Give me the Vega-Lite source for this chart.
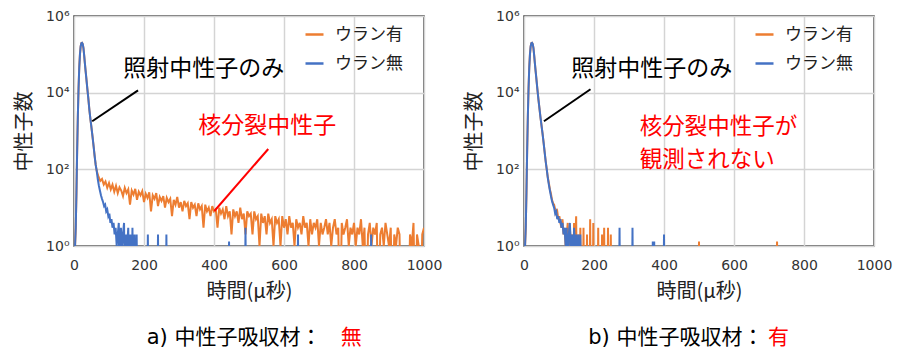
{
"$schema": "https://vega.github.io/schema/vega-lite/v6.json",
"padding": {"left": 13, "top": 8, "right": 5, "bottom": 5},
"spacing": 100,
"bounds": "flush",
"config": {
 "font": "Noto Sans CJK JP",
 "view": {"stroke": "#404040", "strokeWidth": 1.5},
 "axis": {"grid": true, "gridColor": "#d4d4d4", "gridWidth": 1.5, "domain": false, "ticks": false, "tickSize": 0, "labelFont": "DejaVu Sans", "labelFontSize": 14, "labelColor": "#333333", "labelFlush": false, "labelOverlap": false, "labelBound": false, "titleFont": "Noto Sans CJK JP", "titleFontSize": 20, "titleFontWeight": "normal", "titleColor": "#222222"},
 "legend": {"orient": "none", "legendX": 230, "legendY": 8, "symbolType": "stroke", "symbolSize": 324, "symbolStrokeWidth": 2.5, "labelFont": "Noto Sans CJK JP", "labelFontSize": 17, "labelColor": "#222222", "labelOffset": 10, "rowPadding": 10, "padding": 0}
},
"datasets": {
 "a": [
  {"s":"ウラン有","t":3,"n":1},{"s":"ウラン有","t":5,"n":3},{"s":"ウラン有","t":7,"n":25},{"s":"ウラン有","t":9,"n":300},{"s":"ウラン有","t":11,"n":2500},{"s":"ウラン有","t":13,"n":13000},{"s":"ウラン有","t":15,"n":45000},{"s":"ウラン有","t":17,"n":100000},{"s":"ウラン有","t":19,"n":160000},{"s":"ウラン有","t":21,"n":195000},{"s":"ウラン有","t":23,"n":200000},{"s":"ウラン有","t":25,"n":185000},{"s":"ウラン有","t":27,"n":145000},{"s":"ウラン有","t":29,"n":95000},{"s":"ウラン有","t":31,"n":60000},{"s":"ウラン有","t":33,"n":38000},{"s":"ウラン有","t":35,"n":25000},{"s":"ウラン有","t":38,"n":13000},{"s":"ウラン有","t":41,"n":7000},{"s":"ウラン有","t":44,"n":3500},{"s":"ウラン有","t":47,"n":2000},{"s":"ウラン有","t":50,"n":1200},{"s":"ウラン有","t":53,"n":700},{"s":"ウラン有","t":56,"n":400},{"s":"ウラン有","t":59,"n":220},{"s":"ウラン有","t":62,"n":130},{"s":"ウラン有","t":65,"n":90},
  {"s":"ウラン有","t":70,"n":64},{"s":"ウラン有","t":75,"n":50},{"s":"ウラン有","t":80,"n":56},{"s":"ウラン有","t":85,"n":40},{"s":"ウラン有","t":90,"n":48},{"s":"ウラン有","t":95,"n":33},{"s":"ウラン有","t":100,"n":44},{"s":"ウラン有","t":105,"n":30},{"s":"ウラン有","t":110,"n":40},{"s":"ウラン有","t":115,"n":26},{"s":"ウラン有","t":120,"n":37},{"s":"ウラン有","t":125,"n":24},{"s":"ウラン有","t":130,"n":34},{"s":"ウラン有","t":135,"n":28},{"s":"ウラン有","t":140,"n":20},{"s":"ウラン有","t":145,"n":33},{"s":"ウラン有","t":150,"n":24},{"s":"ウラン有","t":155,"n":30},{"s":"ウラン有","t":160,"n":12},{"s":"ウラン有","t":165,"n":28},{"s":"ウラン有","t":170,"n":22},{"s":"ウラン有","t":175,"n":31},{"s":"ウラン有","t":180,"n":16},{"s":"ウラン有","t":185,"n":26},{"s":"ウラン有","t":190,"n":21},{"s":"ウラン有","t":195,"n":27},{"s":"ウラン有","t":200,"n":14},
  {"s":"ウラン有","t":205,"n":23},{"s":"ウラン有","t":210,"n":18},{"s":"ウラン有","t":215,"n":25},{"s":"ウラン有","t":220,"n":8},{"s":"ウラン有","t":225,"n":21},{"s":"ウラン有","t":230,"n":17},{"s":"ウラン有","t":235,"n":24},{"s":"ウラン有","t":240,"n":11},{"s":"ウラン有","t":245,"n":19},{"s":"ウラン有","t":250,"n":15},{"s":"ウラン有","t":255,"n":20},{"s":"ウラン有","t":260,"n":10},{"s":"ウラン有","t":265,"n":18},{"s":"ウラン有","t":270,"n":14},{"s":"ウラン有","t":275,"n":17},{"s":"ウラン有","t":280,"n":6},{"s":"ウラン有","t":285,"n":16},{"s":"ウラン有","t":290,"n":12},{"s":"ウラン有","t":295,"n":19},{"s":"ウラン有","t":300,"n":10},
  {"s":"ウラン有","t":305,"n":14},{"s":"ウラン有","t":310,"n":8},{"s":"ウラン有","t":315,"n":15},{"s":"ウラン有","t":320,"n":11},{"s":"ウラン有","t":325,"n":13},{"s":"ウラン有","t":330,"n":5},{"s":"ウラン有","t":335,"n":14},{"s":"ウラン有","t":340,"n":10},{"s":"ウラン有","t":345,"n":12},{"s":"ウラン有","t":350,"n":6},{"s":"ウラン有","t":355,"n":13},{"s":"ウラン有","t":360,"n":9},{"s":"ウラン有","t":365,"n":11},{"s":"ウラン有","t":370,"n":3},{"s":"ウラン有","t":375,"n":12},{"s":"ウラン有","t":380,"n":8},{"s":"ウラン有","t":385,"n":10},{"s":"ウラン有","t":390,"n":6},{"s":"ウラン有","t":395,"n":11},{"s":"ウラン有","t":400,"n":8},
  {"s":"ウラン有","t":405,"n":9},{"s":"ウラン有","t":410,"n":3},{"s":"ウラン有","t":415,"n":10},{"s":"ウラン有","t":420,"n":7},{"s":"ウラン有","t":425,"n":9},{"s":"ウラン有","t":430,"n":5},{"s":"ウラン有","t":435,"n":11},{"s":"ウラン有","t":440,"n":6},{"s":"ウラン有","t":445,"n":8},{"s":"ウラン有","t":450,"n":2},{"s":"ウラン有","t":455,"n":9},{"s":"ウラン有","t":460,"n":6},{"s":"ウラン有","t":465,"n":8},{"s":"ウラン有","t":470,"n":4},{"s":"ウラン有","t":475,"n":10},{"s":"ウラン有","t":480,"n":5},{"s":"ウラン有","t":485,"n":7},{"s":"ウラン有","t":490,"n":2},{"s":"ウラン有","t":495,"n":8},{"s":"ウラン有","t":500,"n":6},
  {"s":"ウラン有","t":505,"n":7},{"s":"ウラン有","t":510,"n":2},{"s":"ウラン有","t":515,"n":8},{"s":"ウラン有","t":520,"n":5},{"s":"ウラン有","t":525,"n":6},{"s":"ウラン有","t":530,"n":1},{"s":"ウラン有","t":535,"n":7},{"s":"ウラン有","t":540,"n":4},{"s":"ウラン有","t":545,"n":6},{"s":"ウラン有","t":550,"n":2},{"s":"ウラン有","t":555,"n":7},{"s":"ウラン有","t":560,"n":4},{"s":"ウラン有","t":565,"n":5},{"s":"ウラン有","t":570,"n":1},{"s":"ウラン有","t":575,"n":6},{"s":"ウラン有","t":580,"n":4},{"s":"ウラン有","t":585,"n":5},{"s":"ウラン有","t":590,"n":1},{"s":"ウラン有","t":595,"n":6},{"s":"ウラン有","t":600,"n":3},
  {"s":"ウラン有","t":605,"n":5},{"s":"ウラン有","t":610,"n":2},{"s":"ウラン有","t":615,"n":6},{"s":"ウラン有","t":620,"n":3},{"s":"ウラン有","t":625,"n":4},{"s":"ウラン有","t":630,"n":1},{"s":"ウラン有","t":635,"n":5},{"s":"ウラン有","t":640,"n":3},{"s":"ウラン有","t":645,"n":4},{"s":"ウラン有","t":650,"n":2},{"s":"ウラン有","t":655,"n":6},{"s":"ウラン有","t":660,"n":3},{"s":"ウラン有","t":665,"n":4},{"s":"ウラン有","t":670,"n":1},{"s":"ウラン有","t":675,"n":5},{"s":"ウラン有","t":680,"n":2},{"s":"ウラン有","t":685,"n":4},{"s":"ウラン有","t":690,"n":3},{"s":"ウラン有","t":695,"n":5},{"s":"ウラン有","t":700,"n":1},
  {"s":"ウラン有","t":705,"n":4},{"s":"ウラン有","t":710,"n":2},{"s":"ウラン有","t":715,"n":3},{"s":"ウラン有","t":720,"n":5},{"s":"ウラン有","t":725,"n":2},{"s":"ウラン有","t":730,"n":4},{"s":"ウラン有","t":735,"n":1},{"s":"ウラン有","t":740,"n":3},{"s":"ウラン有","t":745,"n":5},{"s":"ウラン有","t":750,"n":2},{"s":"ウラン有","t":755,"n":3},{"s":"ウラン有","t":760,"n":0.01},{"s":"ウラン有","t":765,"n":4},{"s":"ウラン有","t":770,"n":2},{"s":"ウラン有","t":775,"n":3},{"s":"ウラン有","t":780,"n":5},{"s":"ウラン有","t":785,"n":1},{"s":"ウラン有","t":790,"n":3},{"s":"ウラン有","t":795,"n":2},{"s":"ウラン有","t":800,"n":4},
  {"s":"ウラン有","t":805,"n":1},{"s":"ウラン有","t":810,"n":3},{"s":"ウラン有","t":815,"n":2},{"s":"ウラン有","t":820,"n":5},{"s":"ウラン有","t":825,"n":1},{"s":"ウラン有","t":830,"n":3},{"s":"ウラン有","t":835,"n":0.01},{"s":"ウラン有","t":840,"n":2},{"s":"ウラン有","t":845,"n":4},{"s":"ウラン有","t":850,"n":1},{"s":"ウラン有","t":855,"n":3},{"s":"ウラン有","t":860,"n":2},{"s":"ウラン有","t":865,"n":4},{"s":"ウラン有","t":870,"n":0.01},{"s":"ウラン有","t":875,"n":2},{"s":"ウラン有","t":880,"n":3},{"s":"ウラン有","t":885,"n":1},{"s":"ウラン有","t":890,"n":4},{"s":"ウラン有","t":895,"n":2},{"s":"ウラン有","t":900,"n":1},
  {"s":"ウラン有","t":905,"n":3},{"s":"ウラン有","t":910,"n":0.01},{"s":"ウラン有","t":915,"n":2},{"s":"ウラン有","t":920,"n":1},{"s":"ウラン有","t":925,"n":3},{"s":"ウラン有","t":930,"n":2},{"s":"ウラン有","t":935,"n":0.01},{"s":"ウラン有","t":940,"n":1},{"s":"ウラン有","t":945,"n":0.01},{"s":"ウラン有","t":950,"n":0.01},{"s":"ウラン有","t":955,"n":0.01},{"s":"ウラン有","t":960,"n":2},{"s":"ウラン有","t":965,"n":1},{"s":"ウラン有","t":970,"n":4},{"s":"ウラン有","t":975,"n":0.01},{"s":"ウラン有","t":980,"n":2},{"s":"ウラン有","t":985,"n":1},{"s":"ウラン有","t":990,"n":0.01},{"s":"ウラン有","t":995,"n":2},{"s":"ウラン有","t":1000,"n":3},
  {"s":"ウラン無","t":3,"n":1},{"s":"ウラン無","t":5,"n":3},{"s":"ウラン無","t":7,"n":25},{"s":"ウラン無","t":9,"n":300},{"s":"ウラン無","t":11,"n":2500},{"s":"ウラン無","t":13,"n":13000},{"s":"ウラン無","t":15,"n":45000},{"s":"ウラン無","t":17,"n":100000},{"s":"ウラン無","t":19,"n":160000},{"s":"ウラン無","t":21,"n":195000},{"s":"ウラン無","t":23,"n":200000},{"s":"ウラン無","t":25,"n":185000},{"s":"ウラン無","t":27,"n":145000},{"s":"ウラン無","t":29,"n":95000},{"s":"ウラン無","t":31,"n":60000},{"s":"ウラン無","t":33,"n":38000},{"s":"ウラン無","t":35,"n":25000},{"s":"ウラン無","t":38,"n":13000},{"s":"ウラン無","t":41,"n":7000},{"s":"ウラン無","t":44,"n":3500},{"s":"ウラン無","t":47,"n":2000},{"s":"ウラン無","t":50,"n":1200},{"s":"ウラン無","t":53,"n":700},{"s":"ウラン無","t":56,"n":400},{"s":"ウラン無","t":59,"n":220},{"s":"ウラン無","t":62,"n":130},{"s":"ウラン無","t":65,"n":90},
  {"s":"ウラン無","t":68,"n":55},{"s":"ウラン無","t":71,"n":38},{"s":"ウラン無","t":74,"n":28},{"s":"ウラン無","t":77,"n":21},{"s":"ウラン無","t":80,"n":17},{"s":"ウラン無","t":83,"n":14},{"s":"ウラン無","t":86,"n":11},{"s":"ウラン無","t":89,"n":12},{"s":"ウラン無","t":92,"n":8},{"s":"ウラン無","t":95,"n":9},{"s":"ウラン無","t":98,"n":6},{"s":"ウラン無","t":101,"n":7},{"s":"ウラン無","t":104,"n":4},{"s":"ウラン無","t":107,"n":5},{"s":"ウラン無","t":110,"n":3},{"s":"ウラン無","t":113,"n":4},{"s":"ウラン無","t":116,"n":2},{"s":"ウラン無","t":119,"n":3},{"s":"ウラン無","t":122,"n":1},{"s":"ウラン無","t":125,"n":2},{"s":"ウラン無","t":128,"n":4},{"s":"ウラン無","t":131,"n":0.01},{"s":"ウラン無","t":134,"n":3},{"s":"ウラン無","t":137,"n":1},{"s":"ウラン無","t":140,"n":2},{"s":"ウラン無","t":143,"n":4},{"s":"ウラン無","t":146,"n":0.01},{"s":"ウラン無","t":149,"n":2},{"s":"ウラン無","t":152,"n":1},{"s":"ウラン無","t":155,"n":3},{"s":"ウラン無","t":158,"n":0.01},{"s":"ウラン無","t":161,"n":2},{"s":"ウラン無","t":164,"n":0.01},{"s":"ウラン無","t":167,"n":3},{"s":"ウラン無","t":170,"n":0.01},{"s":"ウラン無","t":173,"n":2},{"s":"ウラン無","t":176,"n":0.01},{"s":"ウラン無","t":179,"n":2},{"s":"ウラン無","t":182,"n":0.01},
  {"s":"ウラン無","t":209,"n":0.01},{"s":"ウラン無","t":211,"n":2},{"s":"ウラン無","t":213,"n":0.01},{"s":"ウラン無","t":238,"n":0.01},{"s":"ウラン無","t":240,"n":2},{"s":"ウラン無","t":242,"n":0.01},{"s":"ウラン無","t":262,"n":0.01},{"s":"ウラン無","t":264,"n":2},{"s":"ウラン無","t":266,"n":0.01},{"s":"ウラン無","t":441,"n":0.01},{"s":"ウラン無","t":443,"n":1.3},{"s":"ウラン無","t":445,"n":0.01},{"s":"ウラン無","t":488,"n":0.01},{"s":"ウラン無","t":490,"n":3},{"s":"ウラン無","t":492,"n":0.01},{"s":"ウラン無","t":638,"n":0.01},{"s":"ウラン無","t":640,"n":2},{"s":"ウラン無","t":642,"n":0.01},{"s":"ウラン無","t":847,"n":0.01},{"s":"ウラン無","t":849,"n":2},{"s":"ウラン無","t":851,"n":0.01},{"s":"ウラン無","t":1000,"n":0.01}
 ],
 "b": [
  {"s":"ウラン有","t":3,"n":1},{"s":"ウラン有","t":5,"n":3},{"s":"ウラン有","t":7,"n":25},{"s":"ウラン有","t":9,"n":300},{"s":"ウラン有","t":11,"n":2500},{"s":"ウラン有","t":13,"n":13000},{"s":"ウラン有","t":15,"n":45000},{"s":"ウラン有","t":17,"n":100000},{"s":"ウラン有","t":19,"n":160000},{"s":"ウラン有","t":21,"n":195000},{"s":"ウラン有","t":23,"n":200000},{"s":"ウラン有","t":25,"n":185000},{"s":"ウラン有","t":27,"n":145000},{"s":"ウラン有","t":29,"n":95000},{"s":"ウラン有","t":31,"n":60000},{"s":"ウラン有","t":33,"n":38000},{"s":"ウラン有","t":35,"n":25000},{"s":"ウラン有","t":38,"n":13000},{"s":"ウラン有","t":41,"n":7000},{"s":"ウラン有","t":44,"n":4000},{"s":"ウラン有","t":47,"n":2300},{"s":"ウラン有","t":50,"n":1400},{"s":"ウラン有","t":53,"n":850},{"s":"ウラン有","t":56,"n":500},{"s":"ウラン有","t":59,"n":280},{"s":"ウラン有","t":62,"n":160},{"s":"ウラン有","t":65,"n":100},
  {"s":"ウラン有","t":68,"n":62},{"s":"ウラン有","t":71,"n":44},{"s":"ウラン有","t":74,"n":30},{"s":"ウラン有","t":77,"n":23},{"s":"ウラン有","t":80,"n":16},{"s":"ウラン有","t":83,"n":13},{"s":"ウラン有","t":86,"n":12},{"s":"ウラン有","t":89,"n":9},{"s":"ウラン有","t":92,"n":7},{"s":"ウラン有","t":95,"n":8},{"s":"ウラン有","t":98,"n":5},{"s":"ウラン有","t":101,"n":6},{"s":"ウラン有","t":104,"n":4},{"s":"ウラン有","t":107,"n":3},{"s":"ウラン有","t":110,"n":5},{"s":"ウラン有","t":113,"n":2},{"s":"ウラン有","t":116,"n":3},{"s":"ウラン有","t":119,"n":1},{"s":"ウラン有","t":122,"n":2},{"s":"ウラン有","t":125,"n":4},{"s":"ウラン有","t":128,"n":0.01},{"s":"ウラン有","t":131,"n":3},{"s":"ウラン有","t":134,"n":1},{"s":"ウラン有","t":137,"n":2},{"s":"ウラン有","t":140,"n":0.01},{"s":"ウラン有","t":143,"n":4},{"s":"ウラン有","t":146,"n":1},{"s":"ウラン有","t":149,"n":6},{"s":"ウラン有","t":152,"n":0.01},{"s":"ウラン有","t":155,"n":2},{"s":"ウラン有","t":158,"n":0.01},{"s":"ウラン有","t":161,"n":3},{"s":"ウラン有","t":164,"n":0.01},
  {"s":"ウラン有","t":168,"n":0.01},{"s":"ウラン有","t":170,"n":3},{"s":"ウラン有","t":172,"n":0.01},{"s":"ウラン有","t":178,"n":0.01},{"s":"ウラン有","t":180,"n":2},{"s":"ウラン有","t":182,"n":0.01},{"s":"ウラン有","t":187,"n":0.01},{"s":"ウラン有","t":189,"n":5},{"s":"ウラン有","t":191,"n":0.01},{"s":"ウラン有","t":196,"n":0.01},{"s":"ウラン有","t":198,"n":4},{"s":"ウラン有","t":200,"n":0.01},{"s":"ウラン有","t":210,"n":0.01},{"s":"ウラン有","t":212,"n":3},{"s":"ウラン有","t":214,"n":0.01},{"s":"ウラン有","t":221,"n":0.01},{"s":"ウラン有","t":223,"n":2},{"s":"ウラン有","t":225,"n":0.01},{"s":"ウラン有","t":227,"n":0.01},{"s":"ウラン有","t":229,"n":3},{"s":"ウラン有","t":231,"n":0.01},{"s":"ウラン有","t":238,"n":0.01},{"s":"ウラン有","t":240,"n":3},{"s":"ウラン有","t":242,"n":0.01},{"s":"ウラン有","t":246,"n":0.01},{"s":"ウラン有","t":248,"n":2},{"s":"ウラン有","t":250,"n":0.01},{"s":"ウラン有","t":498,"n":0.01},{"s":"ウラン有","t":500,"n":1.3},{"s":"ウラン有","t":502,"n":0.01},{"s":"ウラン有","t":721,"n":0.01},{"s":"ウラン有","t":723,"n":1.3},{"s":"ウラン有","t":725,"n":0.01},{"s":"ウラン有","t":1000,"n":0.01},
  {"s":"ウラン無","t":3,"n":1},{"s":"ウラン無","t":5,"n":3},{"s":"ウラン無","t":7,"n":25},{"s":"ウラン無","t":9,"n":300},{"s":"ウラン無","t":11,"n":2500},{"s":"ウラン無","t":13,"n":13000},{"s":"ウラン無","t":15,"n":45000},{"s":"ウラン無","t":17,"n":100000},{"s":"ウラン無","t":19,"n":160000},{"s":"ウラン無","t":21,"n":195000},{"s":"ウラン無","t":23,"n":200000},{"s":"ウラン無","t":25,"n":185000},{"s":"ウラン無","t":27,"n":145000},{"s":"ウラン無","t":29,"n":95000},{"s":"ウラン無","t":31,"n":60000},{"s":"ウラン無","t":33,"n":38000},{"s":"ウラン無","t":35,"n":25000},{"s":"ウラン無","t":38,"n":13000},{"s":"ウラン無","t":41,"n":7000},{"s":"ウラン無","t":44,"n":4000},{"s":"ウラン無","t":47,"n":2300},{"s":"ウラン無","t":50,"n":1400},{"s":"ウラン無","t":53,"n":850},{"s":"ウラン無","t":56,"n":500},{"s":"ウラン無","t":59,"n":280},{"s":"ウラン無","t":62,"n":160},{"s":"ウラン無","t":65,"n":100},
  {"s":"ウラン無","t":68,"n":60},{"s":"ウラン無","t":71,"n":40},{"s":"ウラン無","t":74,"n":28},{"s":"ウラン無","t":77,"n":20},{"s":"ウラン無","t":80,"n":15},{"s":"ウラン無","t":83,"n":12},{"s":"ウラン無","t":86,"n":10},{"s":"ウラン無","t":89,"n":7},{"s":"ウラン無","t":92,"n":8},{"s":"ウラン無","t":95,"n":5},{"s":"ウラン無","t":98,"n":6},{"s":"ウラン無","t":101,"n":4},{"s":"ウラン無","t":104,"n":5},{"s":"ウラン無","t":107,"n":3},{"s":"ウラン無","t":110,"n":4},{"s":"ウラン無","t":113,"n":2},{"s":"ウラン無","t":116,"n":3},{"s":"ウラン無","t":119,"n":1},{"s":"ウラン無","t":122,"n":3},{"s":"ウラン無","t":125,"n":0.01},{"s":"ウラン無","t":128,"n":2},{"s":"ウラン無","t":131,"n":4},{"s":"ウラン無","t":134,"n":1},{"s":"ウラン無","t":137,"n":2},{"s":"ウラン無","t":140,"n":0.01},{"s":"ウラン無","t":143,"n":3},{"s":"ウラン無","t":146,"n":1},{"s":"ウラン無","t":149,"n":2},{"s":"ウラン無","t":152,"n":0.01},{"s":"ウラン無","t":155,"n":2},{"s":"ウラン無","t":158,"n":0.01},{"s":"ウラン無","t":161,"n":2},{"s":"ウラン無","t":164,"n":0.01},
  {"s":"ウラン無","t":271,"n":0.01},{"s":"ウラン無","t":273,"n":3},{"s":"ウラン無","t":275,"n":0.01},{"s":"ウラン無","t":308,"n":0.01},{"s":"ウラン無","t":310,"n":3},{"s":"ウラン無","t":312,"n":0.01},{"s":"ウラン無","t":366,"n":0.01},{"s":"ウラン無","t":368,"n":1.3},{"s":"ウラン無","t":370,"n":0.01},{"s":"ウラン無","t":372,"n":1.3},{"s":"ウラン無","t":374,"n":0.01},{"s":"ウラン無","t":398,"n":0.01},{"s":"ウラン無","t":400,"n":2},{"s":"ウラン無","t":402,"n":0.01},{"s":"ウラン無","t":1000,"n":0.01}
 ]
},
"hconcat": [
 {
  "width": 350, "height": 230,
  "layer": [
   {"data": {"name": "a"}, "transform": [{"filter": "datum.s == 'ウラン有'"}],
    "mark": {"type": "line", "clip": true, "strokeWidth": 2},
    "encoding": {
     "x": {"field": "t", "type": "quantitative", "scale": {"domain": [0, 1000], "nice": false}, "axis": {"values": [0,200,400,600,800,1000], "format": "d", "title": "時間(μ秒)", "labelPadding": 12, "titlePadding": 9}},
     "y": {"field": "n", "type": "quantitative", "scale": {"type": "log", "domain": [1, 1000000], "nice": false}, "axis": {"values": [1,100,10000,1000000], "title": "中性子数", "labelExpr": "datum.value == 1 ? '10⁰' : datum.value == 100 ? '10²' : datum.value == 10000 ? '10⁴' : '10⁶'", "labelPadding": 5, "titlePadding": 11}},
     "color": {"field": "s", "type": "nominal", "scale": {"domain": ["ウラン有", "ウラン無"], "range": ["#ED7D31", "#4472C4"]}, "legend": {"title": null}}
    }},
   {"data": {"name": "a"}, "transform": [{"filter": "datum.s == 'ウラン無'"}],
    "mark": {"type": "line", "clip": true, "strokeWidth": 2},
    "encoding": {
     "x": {"field": "t", "type": "quantitative", "scale": {"domain": [0, 1000], "nice": false}},
     "y": {"field": "n", "type": "quantitative", "scale": {"type": "log", "domain": [1, 1000000], "nice": false}},
     "color": {"field": "s", "type": "nominal", "scale": {"domain": ["ウラン有", "ウラン無"], "range": ["#ED7D31", "#4472C4"]}, "legend": {"title": null}}
    }},
   {"data": {"values": [{"t": 52, "n": 1800, "t2": 183, "n2": 11500}]},
    "mark": {"type": "rule", "color": "#000000", "strokeWidth": 2},
    "encoding": {"x": {"field": "t", "type": "quantitative"}, "y": {"field": "n", "type": "quantitative"}, "x2": {"field": "t2"}, "y2": {"field": "n2"}}},
   {"data": {"values": [{"t": 555, "n": 339, "t2": 401, "n2": 8.2}]},
    "mark": {"type": "rule", "color": "#FF0000", "strokeWidth": 2},
    "encoding": {"x": {"field": "t", "type": "quantitative"}, "y": {"field": "n", "type": "quantitative"}, "x2": {"field": "t2"}, "y2": {"field": "n2"}}},
   {"data": {"values": [{"t": 141, "n": 41500, "label": "照射中性子のみ"}]},
    "mark": {"type": "text", "align": "left", "baseline": "middle", "font": "Noto Sans CJK JP", "fontSize": 23, "color": "#000000", "clip": false},
    "encoding": {"x": {"field": "t", "type": "quantitative"}, "y": {"field": "n", "type": "quantitative"}, "text": {"field": "label"}}},
   {"data": {"values": [{"t": 355, "n": 1350, "label": "核分裂中性子"}]},
    "mark": {"type": "text", "align": "left", "baseline": "middle", "font": "Noto Sans CJK JP", "fontSize": 23, "color": "#FF0000", "clip": false},
    "encoding": {"x": {"field": "t", "type": "quantitative"}, "y": {"field": "n", "type": "quantitative"}, "text": {"field": "label"}}},
   {"data": {"values": [{"t": 707, "n": 0.004, "label": "a) 中性子吸収材："}]},
    "mark": {"type": "text", "align": "right", "baseline": "middle", "font": "DejaVu Sans, Noto Sans CJK JP", "fontSize": 21, "color": "#000000", "clip": false},
    "encoding": {"x": {"field": "t", "type": "quantitative"}, "y": {"field": "n", "type": "quantitative"}, "text": {"field": "label"}}},
   {"data": {"values": [{"t": 762, "n": 0.004, "label": "無"}]},
    "mark": {"type": "text", "align": "left", "baseline": "middle", "font": "Noto Sans CJK JP", "fontSize": 21, "color": "#FF0000", "clip": false},
    "encoding": {"x": {"field": "t", "type": "quantitative"}, "y": {"field": "n", "type": "quantitative"}, "text": {"field": "label"}}}
  ]
 },
 {
  "width": 350, "height": 230,
  "layer": [
   {"data": {"name": "b"}, "transform": [{"filter": "datum.s == 'ウラン有'"}],
    "mark": {"type": "line", "clip": true, "strokeWidth": 2},
    "encoding": {
     "x": {"field": "t", "type": "quantitative", "scale": {"domain": [0, 1000], "nice": false}, "axis": {"values": [0,200,400,600,800,1000], "format": "d", "title": "時間(μ秒)", "labelPadding": 12, "titlePadding": 9}},
     "y": {"field": "n", "type": "quantitative", "scale": {"type": "log", "domain": [1, 1000000], "nice": false}, "axis": {"values": [1,100,10000,1000000], "title": "中性子数", "labelExpr": "datum.value == 1 ? '10⁰' : datum.value == 100 ? '10²' : datum.value == 10000 ? '10⁴' : '10⁶'", "labelPadding": 5, "titlePadding": 11}},
     "color": {"field": "s", "type": "nominal", "scale": {"domain": ["ウラン有", "ウラン無"], "range": ["#ED7D31", "#4472C4"]}, "legend": {"title": null}}
    }},
   {"data": {"name": "b"}, "transform": [{"filter": "datum.s == 'ウラン無'"}],
    "mark": {"type": "line", "clip": true, "strokeWidth": 2},
    "encoding": {
     "x": {"field": "t", "type": "quantitative", "scale": {"domain": [0, 1000], "nice": false}},
     "y": {"field": "n", "type": "quantitative", "scale": {"type": "log", "domain": [1, 1000000], "nice": false}},
     "color": {"field": "s", "type": "nominal", "scale": {"domain": ["ウラン有", "ウラン無"], "range": ["#ED7D31", "#4472C4"]}, "legend": {"title": null}}
    }},
   {"data": {"values": [{"t": 57, "n": 1800, "t2": 190, "n2": 12300}]},
    "mark": {"type": "rule", "color": "#000000", "strokeWidth": 2},
    "encoding": {"x": {"field": "t", "type": "quantitative"}, "y": {"field": "n", "type": "quantitative"}, "x2": {"field": "t2"}, "y2": {"field": "n2"}}},
   {"data": {"values": [{"t": 135, "n": 41500, "label": "照射中性子のみ"}]},
    "mark": {"type": "text", "align": "left", "baseline": "middle", "font": "Noto Sans CJK JP", "fontSize": 23, "color": "#000000", "clip": false},
    "encoding": {"x": {"field": "t", "type": "quantitative"}, "y": {"field": "n", "type": "quantitative"}, "text": {"field": "label"}}},
   {"data": {"values": [{"t": 331, "n": 1250, "label": "核分裂中性子が"}, {"t": 331, "n": 180, "label": "観測されない"}]},
    "mark": {"type": "text", "align": "left", "baseline": "middle", "font": "Noto Sans CJK JP", "fontSize": 22.5, "color": "#FF0000", "clip": false},
    "encoding": {"x": {"field": "t", "type": "quantitative"}, "y": {"field": "n", "type": "quantitative"}, "text": {"field": "label"}}},
   {"data": {"values": [{"t": 684, "n": 0.004, "label": "b) 中性子吸収材："}]},
    "mark": {"type": "text", "align": "right", "baseline": "middle", "font": "DejaVu Sans, Noto Sans CJK JP", "fontSize": 21, "color": "#000000", "clip": false},
    "encoding": {"x": {"field": "t", "type": "quantitative"}, "y": {"field": "n", "type": "quantitative"}, "text": {"field": "label"}}},
   {"data": {"values": [{"t": 697, "n": 0.004, "label": "有"}]},
    "mark": {"type": "text", "align": "left", "baseline": "middle", "font": "Noto Sans CJK JP", "fontSize": 21, "color": "#FF0000", "clip": false},
    "encoding": {"x": {"field": "t", "type": "quantitative"}, "y": {"field": "n", "type": "quantitative"}, "text": {"field": "label"}}}
  ]
 }
],
"resolve": {"scale": {"color": "independent"}, "legend": {"color": "independent"}}
}
